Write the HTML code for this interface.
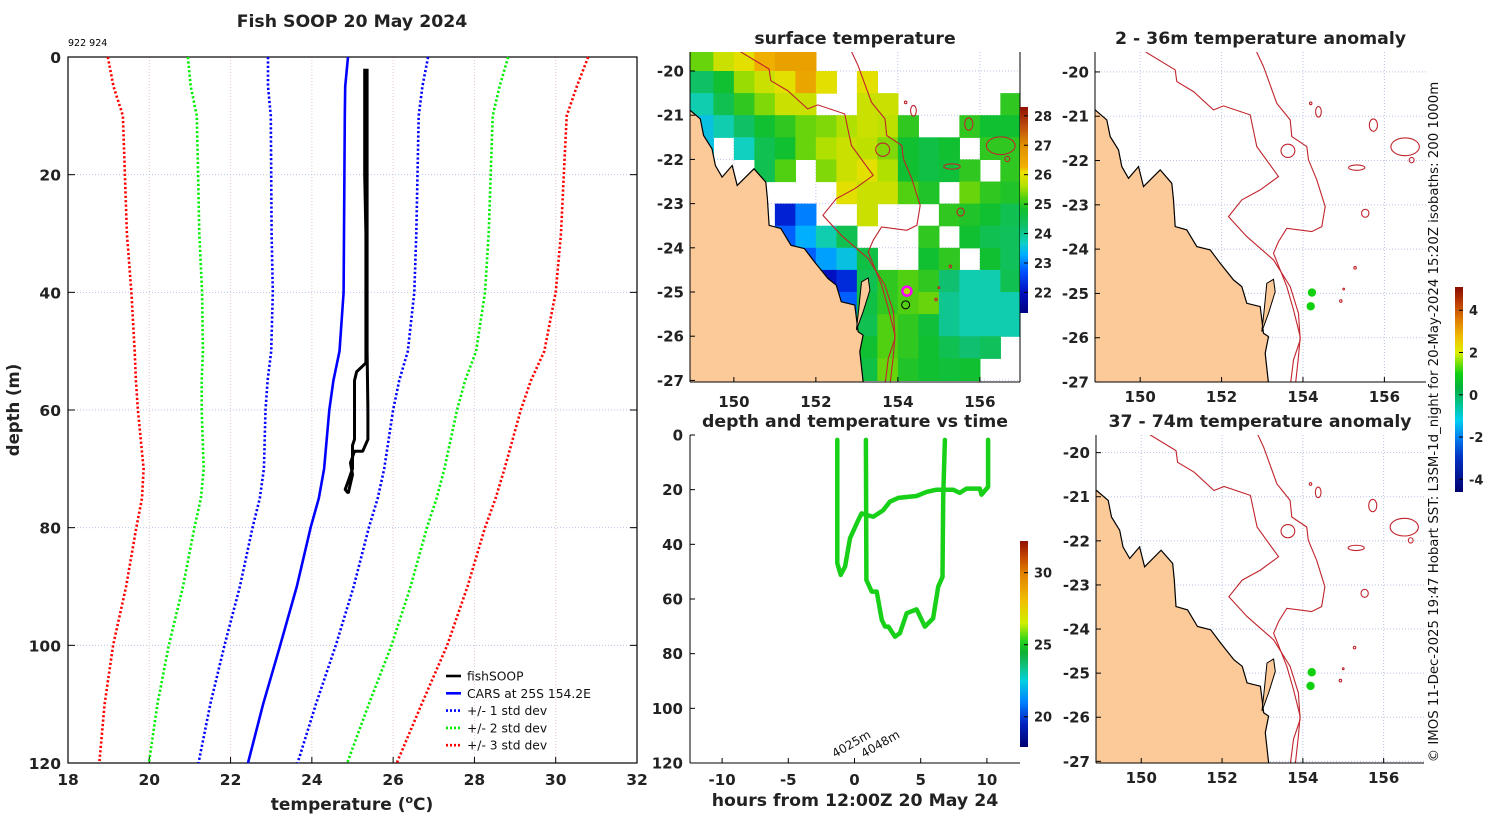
<!DOCTYPE html>
<html><head><meta charset="utf-8">
<style>
html,body{margin:0;padding:0;background:#fff;}
svg{display:block;font-family:"DejaVu Sans","Liberation Sans",sans-serif;}
.b{font-weight:bold;fill:#222;}
</style></head>
<body>
<svg id="fig" width="1500" height="820" viewBox="0 0 1500 820" xmlns="http://www.w3.org/2000/svg"></svg>
<script>
// ---------- Profile chart data ----------
const depthLevels = [0,5,10,20,30,40,50,55,60,70,75,80,90,100,110,120];
const carsMean    = [24.89,24.82,24.81,24.80,24.79,24.78,24.68,24.53,24.43,24.30,24.17,23.97,23.63,23.22,22.80,22.43];
const carsStd     = [1.97,1.90,1.82,1.80,1.78,1.74,1.68,1.62,1.57,1.48,1.45,1.43,1.40,1.37,1.30,1.22];
const stdMultiples = [1,2,3];
const fishDepthA = [2,20,30,50,52,53.5,55,65,66,70,72,73.5,74];
const fishTempA  = [25.30,25.30,25.33,25.33,25.33,25.10,25.05,25.05,25.00,25.00,24.90,24.82,24.88];
const fishDepthB = [74,71,69,67,67,65,60,50,20,2];
const fishTempB  = [24.90,25.00,24.95,25.05,25.25,25.38,25.38,25.36,25.36,25.36];
const tempTicks = [18,20,22,24,26,28,30,32];
const depthTicks = [0,20,40,60,80,100,120];
// ---------- Time panel data ----------
const trackHours1 = [-1.30,-1.30,-1.04,-0.71,-0.34,0.29,0.54,0.92,1.42,2.17,2.67,3.30,4.69,5.44,6.19,6.69,7.45,7.95,8.45,9.46,9.59,10.09,10.09];
const trackDepth1 = [1.8,46.9,51.2,48.1,37.8,31.1,28.7,29.3,29.9,27.5,24.4,23.0,22.3,20.8,20.0,20.0,20.0,21.2,19.6,19.6,21.8,19.0,1.8];
const trackHours2 = [0.86,0.90,1.30,1.68,2.06,2.31,2.56,3.06,3.43,3.94,4.69,5.32,5.94,6.32,6.65,6.70,6.83];
const trackDepth2 = [1.8,53.1,57.3,57.3,67.7,70.1,70.1,73.8,72.5,65.2,63.8,70.1,67.1,55.5,51.9,22.6,1.8];
const hourTicks = [-10,-5,0,5,10];
const timeDepthTicks = [0,20,40,60,80,100,120];
// ---------- SST grid (0.5 deg cells, rows from -19.5 southward, cols from 149E) ----------
const N = null;
const sstRows = [
 [25.3,25.8,26.0,26.3,26.6,26.6,N,N,N,N,N,N,N,N,N,N],
 [24.3,24.8,25.5,25.8,26.0,26.5,26.0,N,26.0,N,N,N,N,N,N,N],
 [23.8,24.5,25.0,25.4,25.8,25.8,N,N,25.8,25.8,N,N,N,N,N,25.0],
 [23.5,23.8,24.3,24.8,25.0,25.3,25.4,25.6,25.8,25.7,25.0,N,N,25.0,24.8,24.8],
 [23.5,N,23.7,24.5,24.8,25.3,25.6,25.8,25.7,25.4,24.8,24.6,24.8,N,25.0,25.0],
 [N,N,N,24.5,25.2,N,25.4,25.8,26.0,25.6,24.8,24.6,24.7,25.0,N,25.0],
 [N,N,N,N,N,N,N,26.0,25.8,25.8,25.2,24.9,N,25.3,25.0,24.9],
 [N,N,N,N,22.2,23.0,N,N,25.8,N,N,N,25.0,24.9,24.8,24.5],
 [N,N,N,N,22.8,23.3,23.8,24.5,N,N,N,25.0,N,24.8,24.5,24.4],
 [N,N,N,N,N,22.8,23.2,23.5,24.6,N,N,24.8,25.0,N,24.8,24.4],
 [N,N,N,N,N,N,22.0,22.3,24.5,25.0,25.2,25.0,24.2,23.8,23.8,24.5],
 [N,N,N,N,N,N,N,22.8,24.6,25.0,25.2,25.3,24.0,23.8,23.8,23.8],
 [N,N,N,N,N,N,N,23.8,24.5,25.2,25.0,24.7,24.0,23.8,23.8,23.8],
 [N,N,N,N,N,N,N,24.2,24.8,25.2,25.0,24.8,24.5,24.2,24.4,N],
 [N,N,N,N,N,N,N,24.3,24.6,25.3,24.9,24.8,24.7,24.8,N,N]
];
const profileLons = [154.22,154.19];
const profileLats = [-24.98,-25.29];
const lonTicks = [150,152,154,156];
const latTicks = [-20,-21,-22,-23,-24,-25,-26,-27];
const sstCbTicks = [22,23,24,25,26,27,28];
const anomCbTicks = [-4,-2,0,2,4];
const timeCbTicks = [20,25,30];

// ---------- geometry (map outlines, in reference-zoom units) ----------
const coastZ = [[105,270],[140,300],[150,350],[175,390],[185,440],[205,475],[235,440],[250,500],[300,450],[335,490],[340,540],[345,620],[380,630],[410,680],[450,690],[480,730],[520,780],[545,800],[560,850],[600,860],[610,940],[625,950],[615,1000],[625,1090],[625,1300],[-200,1300],[-200,270]];
const fraserZ = [[620,790],[640,778],[645,815],[625,880],[605,935],[612,870]];
const iso1Z = [[258,60],[258,97],[345,150],[350,185],[400,215],[460,270],[490,258],[570,285],[590,380],[655,470],[600,510],[545,540],[505,590],[560,650],[640,720],[690,800],[715,880],[720,960],[700,1020],[690,1100]];
const iso2Z = [[580,60],[590,97],[610,140],[650,250],[690,300],[695,350],[740,380],[745,420],[770,480],[795,560],[785,620],[755,635],[680,625],[655,665],[640,700],[660,750],[680,800],[700,870],[720,950],[715,1010],[705,1100]];
const seamounts = [[154.38,-20.90,.07,.12],[154.19,-20.71,.03,.03],[155.73,-21.20,.1,.14],[153.63,-21.78,.17,.15],[155.32,-22.16,.2,.06],[156.51,-21.69,.35,.2],[156.67,-21.99,.06,.06],[155.53,-23.19,.09,.09],[155.28,-24.42,.03,.03],[155.0,-24.9,.02,.02],[154.93,-25.17,.03,.03]];
function z2ll(p){return [150+(p[0]-240)/122.1, -20-(p[1]-156)/132.9];}

const NS='http://www.w3.org/2000/svg';
const svg=document.getElementById('fig');
function mk(tag,attrs,parent){const e=document.createElementNS(NS,tag);for(const k in attrs)e.setAttribute(k,attrs[k]);(parent||svg).appendChild(e);return e;}
function txt(s,attrs,parent){const e=mk('text',attrs,parent);e.textContent=s;return e;}
function lin(d0,d1,r0,r1){return v=>r0+(v-d0)*(r1-r0)/(d1-d0);}
function interp(stops){return v=>{if(v<=stops[0][0])return stops[0][1];for(let i=1;i<stops.length;i++){if(v<=stops[i][0]){const t=(v-stops[i-1][0])/(stops[i][0]-stops[i-1][0]);const a=hex(stops[i-1][1]),b=hex(stops[i][1]);return 'rgb('+a.map((c,j)=>Math.round(c+(b[j]-c)*t)).join(',')+')';}}return stops[stops.length-1][1];};}
function hex(h){return [1,3,5].map(i=>parseInt(h.substr(i,2),16));}
const defs=mk('defs',{});

// ================= LEFT PROFILE CHART =================
const xT=lin(18,32,68,637), yD=lin(0,120,57,763);
const left=mk('g',{});


let t=txt('Fish SOOP 20 May 2024',{x:352,y:27,'text-anchor':'middle','font-size':17.3,class:'b',fill:'#000'},left);


t=txt('922 924',{x:68,y:46,'font-size':9.5,fill:'#000'},left);


for(const v of tempTicks){ if(v>18&&v<32){const g=mk('line',{x1:xT(v),x2:xT(v),y1:57,y2:763,stroke:'#e6c4c4','stroke-width':1,'stroke-dasharray':'1,2'},left);

}
 const tk=mk('line',{x1:xT(v),x2:xT(v),y1:763,y2:757,stroke:'#000'},left);
 
 
 const l=txt(String(v),{x:xT(v),y:785,'text-anchor':'middle','font-size':15.5,class:'b'},left);
 
 }
for(const d of depthTicks){ if(d>0&&d<120){const g=mk('line',{x1:68,x2:637,y1:yD(d),y2:yD(d),stroke:'#b9c6ea','stroke-width':1,'stroke-dasharray':'1,2'},left);

}
 const tk=mk('line',{x1:68,x2:75,y1:yD(d),y2:yD(d),stroke:'#000'},left);
 
 
 const tk2=mk('line',{x1:630,x2:637,y1:yD(d),y2:yD(d),stroke:'#000'},left);
 
 
 const l=txt(String(d),{x:61,y:yD(d)+6,'text-anchor':'end','font-size':15.5,class:'b'},left);
 
 }
const frame=mk('rect',{x:68,y:57,width:569,height:706,fill:'none',stroke:'#000','stroke-width':1.2},left);


t=txt('depth (m)',{transform:'translate(19,410) rotate(-90)','text-anchor':'middle','font-size':16.5,class:'b'},left);


t=txt('',{x:352,y:810,'text-anchor':'middle','font-size':17,class:'b'},left);
t.innerHTML='temperature (<tspan dy="-7" font-size="11">o</tspan><tspan dy="7">C)</tspan>';


const stdColors=['#0000ff','#00ee00','#ff0000'];
function pathFrom(xs,ys){return xs.map((x,i)=>(i?'L':'M')+x.toFixed(1)+','+ys[i].toFixed(1)).join('');}
stdMultiples.forEach((k,ki)=>{[-1,1].forEach(sg=>{
 const p=mk('path',{d:pathFrom(carsMean.map((m,i)=>xT(m+sg*k*carsStd[i])),depthLevels.map(yD)),fill:'none',stroke:stdColors[ki],'stroke-width':2.6,'stroke-dasharray':'2.2,2.2'},left);
 
 });});
let p=mk('path',{d:pathFrom(carsMean.map(xT),depthLevels.map(yD)),fill:'none',stroke:'#0000ff','stroke-width':2.6},left);


p=mk('path',{d:pathFrom(fishTempA.map(xT),fishDepthA.map(yD))+pathFrom(fishTempB.map(xT),fishDepthB.map(yD)).replace('M','L'),fill:'none',stroke:'#000','stroke-width':3,'stroke-linejoin':'round'},left);


const legItems=[['fishSOOP','#000',''],['CARS at 25S 154.2E','#0000ff',''],['+/- 1 std dev','#0000ff','2,2'],['+/- 2 std dev','#00ee00','2,2'],['+/- 3 std dev','#ff0000','2,2']];
const leg=mk('g',{},left);


legItems.forEach((it,i)=>{const y=676+i*17.3;
 const ln=mk('line',{x1:446,x2:461,y1:y,y2:y,stroke:it[1],'stroke-width':2.6,'stroke-dasharray':it[2]||'none'},leg);
 
 
 const tt=txt(it[0],{x:467,y:y+4.5,'font-size':12.3,fill:'#111'},leg);
 
 });

// ================= MAPS =================
const sstCmap=interp([[21.3,'#00007f'],[22,'#0010c0'],[22.7,'#0050ff'],[23.3,'#00b0ff'],[23.7,'#10d0c0'],[24.2,'#10c070'],[24.8,'#10c030'],[25.2,'#50d010'],[25.6,'#b0e000'],[26.1,'#f0e000'],[26.25,'#f0b000'],[27,'#e09000'],[27.6,'#c05010'],[28.3,'#901000']]);
const anomStops=[[-5,'#00006f'],[-3,'#0030c0'],[-2,'#0080f0'],[-1.2,'#00d0f0'],[-0.3,'#00c080'],[0.3,'#00b040'],[1,'#10d010'],[2,'#e0f000'],[2.7,'#f0c000'],[3.5,'#e08000'],[4.3,'#c04000'],[5,'#901000']];
const timeStops=[[17.9,'#00006f'],[19.5,'#0020c0'],[21,'#0080ff'],[22.5,'#00d0e0'],[23.5,'#10c080'],[24.5,'#10b030'],[25.2,'#20d020'],[26.5,'#d0f000'],[28,'#f0c000'],[30,'#e08000'],[31.2,'#c04000'],[32.2,'#901000']];
const sstStops=[[21.3,'#00007f'],[22,'#0010c0'],[22.7,'#0050ff'],[23.3,'#00b0ff'],[23.7,'#10d0c0'],[24.2,'#10c070'],[24.8,'#10c030'],[25.2,'#50d010'],[25.6,'#b0e000'],[26.1,'#f0e000'],[26.25,'#f0b000'],[27,'#e09000'],[27.6,'#c05010'],[28.3,'#901000']];

function drawMap(c){
 const g=mk('g',{});
 
 
 const X=lon=>c.x0+(lon-c.lonL)*c.sx, Y=lat=>c.y0+(c.latT-lat)*c.sy;
 const cp=mk('clipPath',{id:'clip-'+c.name},defs); mk('rect',{x:c.x0,y:c.y0,width:c.w,height:c.h},cp);
 const inner=mk('g',{'clip-path':'url(#clip-'+c.name+')'},g);
 for(const lo of lonTicks){const gl=mk('line',{x1:X(lo),x2:X(lo),y1:c.y0,y2:c.y0+c.h,stroke:'#b9c3e6','stroke-dasharray':'1,2'},inner);
  
  }
 for(const la of latTicks){const gl=mk('line',{x1:c.x0,x2:c.x0+c.w,y1:Y(la),y2:Y(la),stroke:'#b9c3e6','stroke-dasharray':'1,2'},inner);
  
  }
 if(c.sst){sstRows.forEach((row,ri)=>row.forEach((v,ci)=>{ if(v===null)return;
  const lon0=149+ci*0.5-(ci===0?0.5:0), lat0=-19.5-ri*0.5+(ri===0?0.5:0);
  const r=mk('rect',{x:X(lon0),y:Y(lat0),width:(ci===0?1:0.5)*c.sx+0.6,height:(ri===0?1:0.5)*c.sy+0.6,fill:sstCmap(v)},inner);
  
  }));}
 const toPts=arr=>arr.map(z2ll).map(q=>X(q[0]).toFixed(1)+','+Y(q[1]).toFixed(1)).join(' ');
 let e=mk('polygon',{points:toPts(coastZ),fill:'#fbca98',stroke:'#000','stroke-width':1.2},inner);
 
 
 e=mk('polygon',{points:toPts(fraserZ),fill:'#fbca98',stroke:'#000','stroke-width':1},inner);
 
 
 [iso1Z,iso2Z].forEach((iz,i)=>{const l=mk('polyline',{points:toPts(iz),fill:'none',stroke:'#c0242c','stroke-width':1.1},inner);
  
  });
 for(const s of seamounts){const el=mk('ellipse',{cx:X(s[0]),cy:Y(s[1]),rx:s[2]*c.sx,ry:s[3]*c.sy,fill:'none',stroke:'#c0242c','stroke-width':1.1},inner);
  
  }
 if(c.sst){
  let m=mk('circle',{cx:X(profileLons[0]),cy:Y(profileLats[0]),r:4.5,fill:'#b0e000',stroke:'#ff00ff','stroke-width':2.5},inner);
  
  
  m=mk('circle',{cx:X(profileLons[1]),cy:Y(profileLats[1]),r:4,fill:'none',stroke:'#000','stroke-width':1},inner);
  
  
 } else {
  profileLons.forEach((lo,i)=>{const d=mk('circle',{cx:X(lo),cy:Y(profileLats[i]),r:4.2,fill:'#10d010'},inner);
  
  });
 }
 let ax=mk('line',{x1:c.x0,x2:c.x0,y1:c.y0,y2:c.y0+c.h,stroke:'#000'},g);
 
 
 ax=mk('line',{x1:c.x0,x2:c.x0+c.w,y1:c.y0+c.h,y2:c.y0+c.h,stroke:'#000'},g);
 
 
 if(c.sst){ax=mk('line',{x1:c.x0+c.w,x2:c.x0+c.w,y1:c.y0,y2:c.y0+c.h,stroke:'#000'},g);
 
 }
 for(const lo of lonTicks){const tl=txt(String(lo),{x:X(lo),y:c.y0+c.h+c.xlabOff,'text-anchor':'middle','font-size':15,class:'b'},g);
  
  
  const tk=mk('line',{x1:X(lo),x2:X(lo),y1:c.y0+c.h,y2:c.y0+c.h-5,stroke:'#000'},g);
  
  }
 for(const la of latTicks){const tl=txt(String(la),{x:c.x0-6,y:Y(la)+5.5,'text-anchor':'end','font-size':15,class:'b'},g);
  
  
  const tk=mk('line',{x1:c.x0,x2:c.x0+5,y1:Y(la),y2:Y(la),stroke:'#000'},g);
  
  }
 const tt=txt(c.title,{x:c.x0+c.w/2,y:c.y0-8,'text-anchor':'middle','font-size':17.3,class:'b',fill:'#000'},g);
 
 
}
drawMap({name:'sst-map',title:'surface temperature',x0:690,y0:52,w:330,h:330,lonL:148.93,latT:-19.57,sx:41,sy:44.2,sst:true,xlabOff:25});
drawMap({name:'anomaly-map-2-36m',title:'2 - 36m temperature anomaly',x0:1095,y0:52,w:331,h:330,lonL:148.89,latT:-19.55,sx:40.7,sy:44.3,sst:false,xlabOff:20});
drawMap({name:'anomaly-map-37-74m',title:'37 - 74m temperature anomaly',x0:1096,y0:435,w:328,h:328,lonL:148.88,latT:-19.6,sx:40.4,sy:44.1,sst:false,xlabOff:20});

// ================= COLORBARS =================
function colorbar(name,x,y0,y1,vmin,vmax,stops,ticks){
 const id='grad-'+name;const gr=mk('linearGradient',{id:id,x1:0,y1:1,x2:0,y2:0},defs);
 for(const s of stops){mk('stop',{offset:Math.max(0,Math.min(1,(s[0]-vmin)/(vmax-vmin))),'stop-color':s[1]},gr);}
 const g=mk('g',{});
 
 
 mk('rect',{x:x,y:y0,width:8,height:y1-y0,fill:'url(#'+id+')'},g);
 const Y=lin(vmin,vmax,y1,y0);
 for(const tv of ticks){const tk=mk('line',{x1:x+8,x2:x+4,y1:Y(tv),y2:Y(tv),stroke:'#000'},g);
  
  
  const l=txt(String(tv),{x:x+14,y:Y(tv)+5,'font-size':13,class:'b'},g);
  
  }
}
colorbar('sst-colorbar',1020,107,313,21.3,28.3,sstStops,sstCbTicks);
colorbar('anomaly-colorbar',1455,287,492,-4.6,5.1,anomStops,anomCbTicks);
colorbar('time-colorbar',1020,541,747,17.9,32.2,timeStops,timeCbTicks);

// ================= TIME PANEL =================
const hX=lin(-12.5,12.5,689,1020), dY=lin(0,120,435,763);
const tg=mk('g',{});


t=txt('depth and temperature vs time',{x:855,y:427,'text-anchor':'middle','font-size':17.3,class:'b',fill:'#000'},tg);


let a=mk('line',{x1:690,x2:690,y1:435,y2:763,stroke:'#000'},tg);


a=mk('line',{x1:690,x2:1020,y1:763,y2:763,stroke:'#000'},tg);


for(const h of hourTicks){const tk=mk('line',{x1:hX(h),x2:hX(h),y1:763,y2:758,stroke:'#000'},tg);
 
 
 const l=txt(String(h),{x:hX(h),y:785,'text-anchor':'middle','font-size':15,class:'b'},tg);
 
 }
for(const d of timeDepthTicks){const tk=mk('line',{x1:690,x2:695,y1:dY(d),y2:dY(d),stroke:'#000'},tg);
 
 
 const l=txt(String(d),{x:683,y:dY(d)+5.5,'text-anchor':'end','font-size':15,class:'b'},tg);
 
 }
t=txt('hours from 12:00Z 20 May 24',{x:855,y:806,'text-anchor':'middle','font-size':17.3,class:'b'},tg);


[[trackHours1,trackDepth1],[trackHours2,trackDepth2]].forEach((tr,i)=>{
 const pl=mk('path',{d:pathFrom(tr[0].map(hX),tr[1].map(dY)),fill:'none',stroke:'#18d018','stroke-width':4.5,'stroke-linejoin':'round','stroke-linecap':'round'},tg);
 
 });
t=txt('4025m',{transform:'translate(835,758) rotate(-30)','font-size':12,fill:'#111'},tg);


t=txt('4048m',{transform:'translate(864,758) rotate(-30)','font-size':12,fill:'#111'},tg);



// ================= CREDIT =================
t=txt('\u00A9 IMOS 11-Dec-2025 19:47 Hobart SST: L3SM-1d_night for 20-May-2024 15:20Z isobaths: 200  1000m',{transform:'translate(1438,422) rotate(-90)','text-anchor':'middle','font-size':13.3,fill:'#111','xml:space':'preserve'});


</script>
</body></html>
